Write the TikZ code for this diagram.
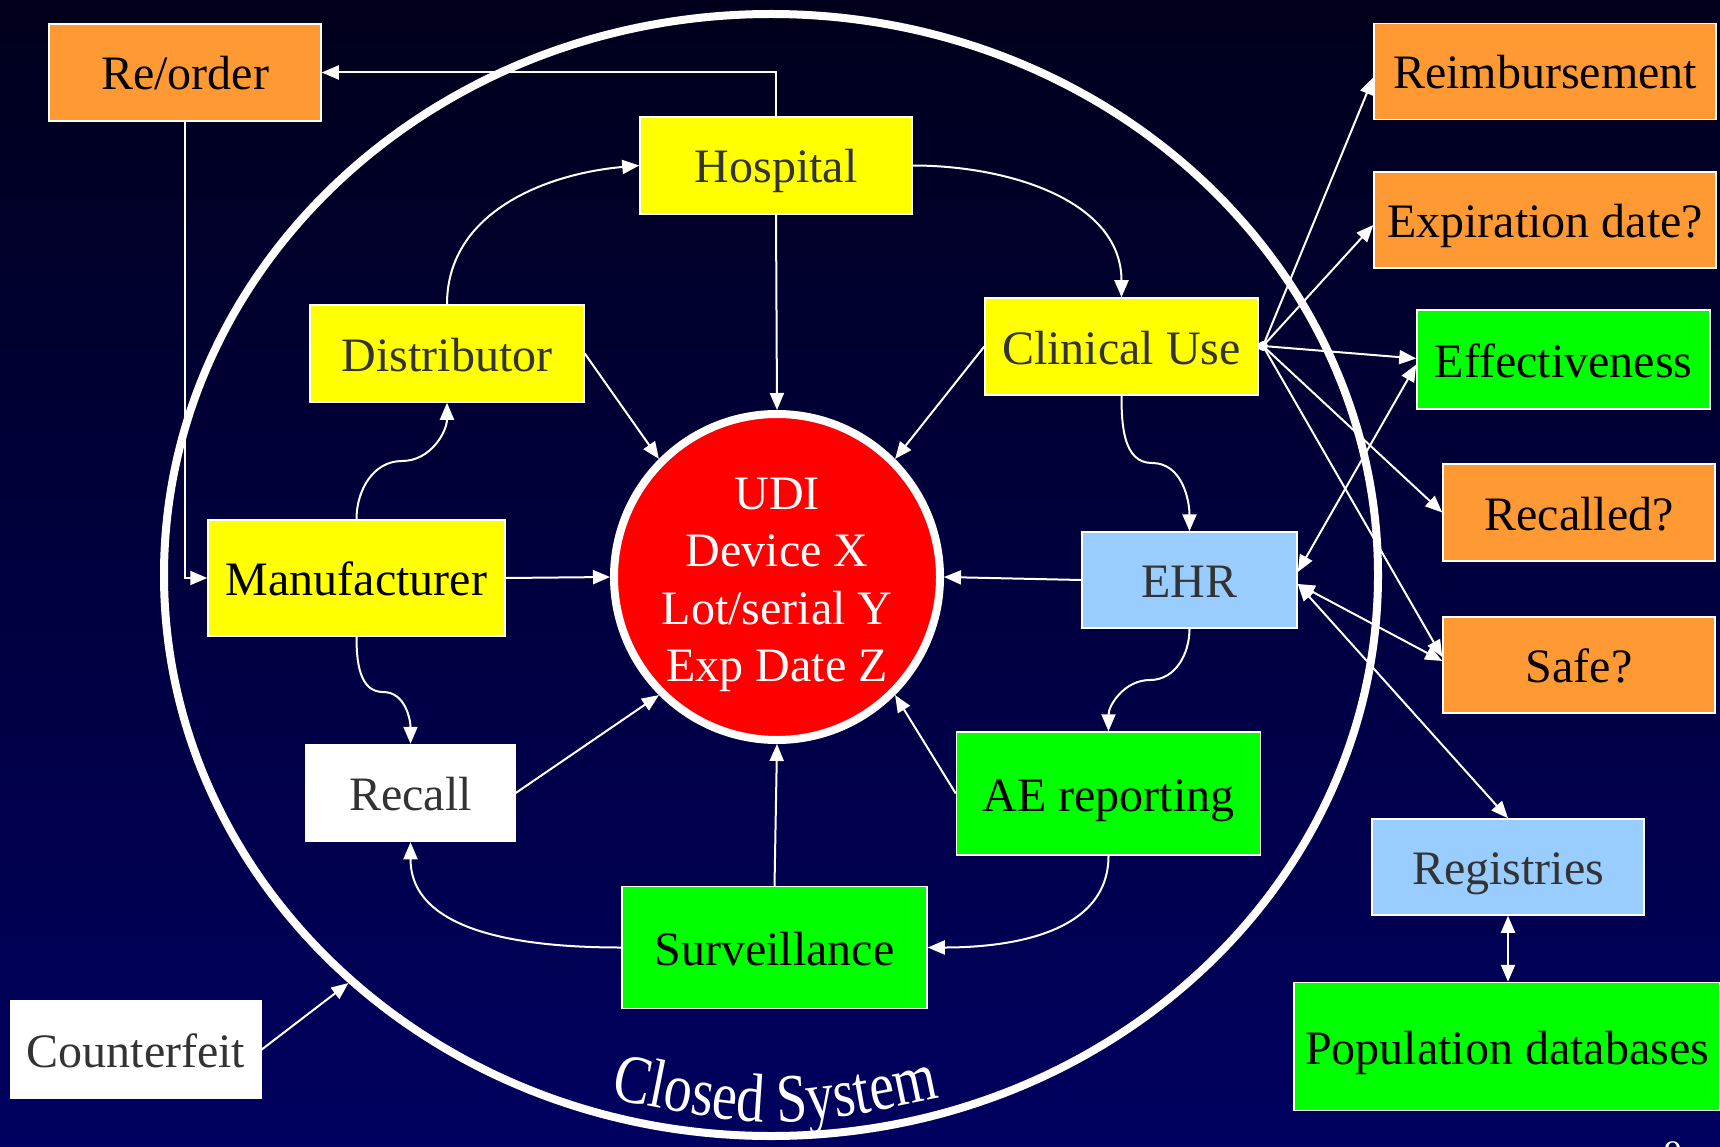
\documentclass[tikz,border=0pt]{standalone}
\usepackage{fontspec}
\setmainfont{Liberation Serif}
\newfontfamily\condfont[FakeStretch=0.81]{Liberation Serif}
\usetikzlibrary{arrows.meta,decorations.text,shapes.geometric}
\definecolor{bgtop}{RGB}{0,0,28}
\definecolor{bgmid}{RGB}{0,0,78}
\definecolor{bgbot}{RGB}{0,0,96}
\definecolor{orangec}{RGB}{255,153,51}
\definecolor{yellowc}{RGB}{255,255,0}
\definecolor{greenc}{RGB}{0,255,0}
\definecolor{bluec}{RGB}{153,204,255}
\definecolor{redc}{RGB}{255,0,0}
\definecolor{txtg}{RGB}{51,51,51}
\newcommand{\closedfont}{\condfont\fontsize{69}{70}\selectfont\color{white}}
\begin{document}
\begin{tikzpicture}[x=1pt,y=-1pt,
  box/.style={draw=white, line width=1.5pt, inner sep=0pt, font=\fontsize{48}{57}\selectfont, text=black, text height=42pt, text depth=7pt},
  tip/.style={Triangle[length=17pt,width=14pt]},
  conn/.style={white, line width=2pt, -{Triangle[length=17pt,width=14pt]}},
  dconn/.style={white, line width=2pt, {Triangle[length=17pt,width=14pt]}-{Triangle[length=17pt,width=14pt]}}]
\useasboundingbox (0,0) rectangle (1720,1147);
\shade[top color=bgtop, middle color=bgmid, bottom color=bgbot] (0,0) rectangle (1720,1147);

\node[ellipse, draw=white, line width=8pt, minimum width=1214pt, minimum height=1122pt, inner sep=0pt] (closed) at (771,575) {};

\node[circle, fill=redc, draw=white, line width=8pt, minimum size=326pt, inner sep=0pt] (udi) at (777,577) {};
\node[align=center, text=white, inner sep=0pt, font=\fontsize{48}{57.3}\selectfont] (udilabel) at (777,585) {UDI\\Device X\\Lot/serial Y\\Exp Date Z};

\node[box, fill=orangec, minimum width=272pt, minimum height=97pt] (reorder) at (185,72.5) {Re/order};
\node[box, fill=yellowc, text=txtg, minimum width=272pt, minimum height=97pt] (hosp) at (776,165.5) {Hospital};
\node[box, fill=yellowc, text=txtg, minimum width=274pt, minimum height=97pt] (dist) at (447,353.5) {Distributor};
\node[box, fill=yellowc, text=txtg, minimum width=273pt, minimum height=97pt] (clin) at (1121.5,346.5) {Clinical Use};
\node[box, fill=yellowc, minimum width=297pt, minimum height=116pt] (manu) at (356.5,578) {Manufacturer};
\node[box, fill=bluec, text=txtg, minimum width=215pt, minimum height=96pt] (ehr) at (1189.5,580) {EHR};
\node[box, fill=white, text=txtg, minimum width=209pt, minimum height=97pt] (recall) at (410.5,793) {Recall};
\node[box, fill=greenc, minimum width=304pt, minimum height=123pt] (ae) at (1108.5,793.5) {AE reporting};
\node[box, fill=greenc, minimum width=305pt, minimum height=122pt] (surv) at (774.5,947.5) {Surveillance};
\node[box, fill=orangec, minimum width=342pt, minimum height=96pt] (reimb) at (1545,71.5) {Reimbursement};
\node[box, fill=orangec, minimum width=342pt, minimum height=96pt] (exp) at (1545,220) {Expiration date?};
\node[box, fill=greenc, minimum width=293pt, minimum height=99pt] (eff) at (1563.5,359.5) {Effectiveness};
\node[box, fill=orangec, minimum width=272pt, minimum height=97pt] (recalled) at (1579,512.5) {Recalled?};
\node[box, fill=orangec, minimum width=272pt, minimum height=96pt] (safe) at (1579,665) {Safe?};
\node[box, fill=bluec, text=txtg, minimum width=272pt, minimum height=96pt] (reg) at (1508,867) {Registries};
\node[box, fill=greenc, minimum width=426pt, minimum height=128pt] (pop) at (1507,1046.5) {Population databases};
\node[box, fill=white, text=txtg, minimum width=250pt, minimum height=97pt] (counter) at (136,1049.5) {Counterfeit};

\node[text=white, font=\fontsize{36}{36}\selectfont, anchor=north, inner sep=0pt] (pnum) at (1673,1141) {9};

\path[decorate, decoration={text along path, text={|\closedfont|Closed System}, text align=center}] (555,1086) .. controls (775,1134) .. (995,1086);

% connectors
\draw[conn] (hosp.north) |- (reorder.east);
\draw[conn] (reorder.south) |- (manu.west);
\draw[conn] (dist.north) to[out=90,in=185] (hosp.west);
\draw[conn] (hosp.east) to[out=0,in=90] (clin.north);
\draw[conn] (hosp.south) -- (udi.north);
\draw[conn] (dist.east) -- (udi.135);
\draw[conn] (clin.west) -- (udi.45);
\draw[conn] (manu.east) -- (udi.west);
\draw[conn] (ehr.west) -- (udi.east);
\draw[conn] (recall.east) -- (udi.225);
\draw[conn] (ae.west) -- (udi.315);
\draw[conn] (surv.north) -- (udi.south);

\coordinate (m1) at (402,461);
\coordinate (m2) at (383,692);
\coordinate (m3) at (1152,463);
\coordinate (m4) at (1150,680);
\draw[conn] (manu.north) to[out=90,in=180] (m1) to[out=0,in=-90] (dist.south);
\draw[conn] (manu.south) to[out=-90,in=180] (m2) to[out=0,in=90] (recall.north);
\draw[conn] (clin.south) to[out=-90,in=180] (m3) to[out=0,in=90] (ehr.north);
\draw[conn] (ehr.south) to[out=-90,in=0] (m4) to[out=180,in=90] (ae.north);
\draw[conn] (ae.south) to[out=-90,in=0] (surv.east);
\draw[conn] (surv.west) to[out=180,in=-90] (recall.south);

\coordinate (fan) at (1263,346);
\fill[white] (fan) circle (5pt);
\draw[conn] (fan) -- ([yshift=-6pt]reimb.west);
\draw[conn] (fan) -- ([yshift=-5pt]exp.west);
\draw[conn] (fan) -- ([yshift=1pt]eff.west);
\draw[conn] (fan) -- (recalled.west);
\draw[conn] (fan) -- ([yshift=8pt]safe.west);
\draw[dconn] ([yshift=8pt]ehr.east) -- ([yshift=-5pt]eff.west);
\draw[dconn] ([yshift=-4pt]ehr.east) -- ([yshift=4pt]safe.west);
\draw[dconn] ([yshift=-4pt]ehr.east) -- (reg.north);
\draw[dconn] (reg.south) -- (reg.south |- pop.north);
\draw[conn] (counter.east) -- (closed.224);
\end{tikzpicture}
\end{document}
